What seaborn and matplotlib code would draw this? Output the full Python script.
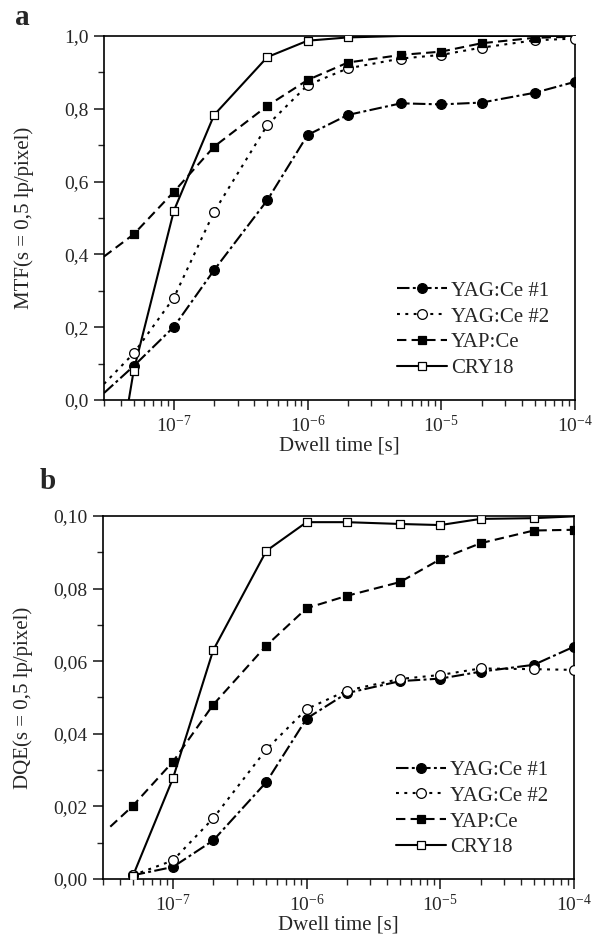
import numpy as np
import pandas as pd
import seaborn as sns
import matplotlib
matplotlib.use('Agg')
import matplotlib.pyplot as plt
from matplotlib.lines import Line2D
from matplotlib.ticker import MultipleLocator, FuncFormatter

# Dwell time [s] for every measured point
dwell = [5e-8, 1e-7, 2e-7, 5e-7, 1e-6, 2e-6, 5e-6, 1e-5, 2e-5, 5e-5, 1e-4]

# panel a: MTF at s = 0.5 lp/pixel
mtf_yag1 = [0.093, 0.201, 0.357, 0.549, 0.728, 0.783, 0.815, 0.812, 0.817, 0.844, 0.874]
mtf_yag2 = [0.128, 0.281, 0.517, 0.755, 0.865, 0.911, 0.938, 0.948, 0.968, 0.988, 0.993]
mtf_yap = [0.455, 0.572, 0.696, 0.808, 0.879, 0.927, 0.948, 0.957, 0.980, 0.995, 0.998]
mtf_cry18 = [0.080, 0.520, 0.783, 0.942, 0.987, 0.996, 1.0, 1.0, 1.0, 1.0, 1.0]
# where the fitted curves start on the left
mtf_start_x = [3e-8, 3e-8, 3e-8, 4.6e-8]
mtf_start_y = [0.019, 0.044, 0.394, 0.0]

# panel b: DQE at s = 0.5 lp/pixel
dqe_yag1 = [0.001, 0.0033, 0.0106, 0.0267, 0.0442, 0.0512, 0.0545, 0.0552, 0.0571, 0.0590, 0.0640]
dqe_yag2 = [0.001, 0.0051, 0.0167, 0.0357, 0.0468, 0.0519, 0.0551, 0.0562, 0.0580, 0.0578, 0.0576]
dqe_yap = [0.0201, 0.0323, 0.0480, 0.0643, 0.0746, 0.0780, 0.0818, 0.0881, 0.0925, 0.0960, 0.0962]
dqe_cry18 = [0.0007, 0.0277, 0.0630, 0.0904, 0.0983, 0.0983, 0.0978, 0.0975, 0.0992, 0.0994, 0.0999]
dqe_start_x = [5e-8, 5e-8, 3.4e-8, 5e-8]
dqe_start_y = [0.001, 0.001, 0.0144, 0.0007]

names = ['YAG:Ce #1', 'YAG:Ce #2', 'YAP:Ce', 'CRY18']

# line / marker look per sample
styles = {
    'YAG:Ce #1': dict(ls=(0, (6, 1.6, 1.4, 1.6)), marker='o', mfc='k', ms=7),
    'YAG:Ce #2': dict(ls=(0, (1.4, 2.6)), marker='o', mfc='white', ms=7),
    'YAP:Ce': dict(ls=(0, (4.5, 2.5)), marker='s', mfc='k', ms=6),
    'CRY18': dict(ls='-', marker='s', mfc='white', ms=6),
}

sns.set_style('ticks')
plt.rcParams['font.family'] = ['Liberation Serif', 'DejaVu Serif']
plt.rcParams['mathtext.fontset'] = 'stix'
plt.rcParams['axes.linewidth'] = 1.2


def draw_panel(ax, series, start_x, start_y, ymax, ystep, fmt, ylabel):
    for name, vals, sx, sy in zip(names, series, start_x, start_y):
        st = styles[name]
        line_df = pd.DataFrame({'x': [sx] + dwell, 'y': [sy] + vals}).drop_duplicates('x')
        sns.lineplot(data=line_df, x='x', y='y', ax=ax, color='k', lw=1.5,
                     linestyle=st['ls'], errorbar=None, zorder=2)
        pts = pd.DataFrame({'x': dwell, 'y': vals})
        pts = pts[pts['y'] < ymax * 0.998]
        sns.scatterplot(data=pts, x='x', y='y', ax=ax, marker=st['marker'],
                        s=st['ms'] ** 2, color=st['mfc'], edgecolor='k',
                        linewidth=0.9, zorder=3, clip_on=True)

    ax.set_xscale('log')
    ax.set_xlim(3e-8, 1e-4)
    ax.set_ylim(0, ymax)
    ax.yaxis.set_major_locator(MultipleLocator(ystep))
    ax.yaxis.set_minor_locator(MultipleLocator(ystep / 2))
    ax.yaxis.set_major_formatter(FuncFormatter(lambda v, p: fmt.format(v).replace('.', ',')))
    ax.tick_params(which='major', direction='out', length=7, width=1.2,
                   labelsize=14, pad=4, top=False, right=False)
    ax.tick_params(which='minor', direction='out', length=4, width=1.0,
                   top=False, right=False)
    for sp in ax.spines.values():
        sp.set_visible(True)
        sp.set_linewidth(1.2)
        sp.set_color('k')

    ax.set_xlabel('Dwell time [s]', fontsize=15)
    ax.set_ylabel(ylabel, fontsize=15)
    ax.xaxis.set_label_coords(0.5, -0.10)
    ax.yaxis.set_label_coords(-0.148, 0.5)

    handles = [Line2D([], [], color='k', lw=1.5, linestyle=styles[n]['ls'],
                      marker=styles[n]['marker'], mfc=styles[n]['mfc'], mec='k',
                      mew=0.9, ms=styles[n]['ms']) for n in names]
    ax.legend(handles, names, loc='center left', bbox_to_anchor=(0.60, 0.193),
              frameon=False, fontsize=15, handlelength=2.4, handletextpad=0.2,
              labelspacing=0.3, borderpad=0, numpoints=1)


fig = plt.figure(figsize=(6, 9.44), dpi=100)
ax_a = fig.add_axes([0.1733, 0.5763, 0.785, 0.3856])
ax_b = fig.add_axes([0.1717, 0.0689, 0.785, 0.3845])

draw_panel(ax_a, [mtf_yag1, mtf_yag2, mtf_yap, mtf_cry18], mtf_start_x, mtf_start_y,
           1.0, 0.2, '{:.1f}', 'MTF(s = 0,5 lp/pixel)')
draw_panel(ax_b, [dqe_yag1, dqe_yag2, dqe_yap, dqe_cry18], dqe_start_x, dqe_start_y,
           0.10, 0.02, '{:.2f}', 'DQE(s = 0,5 lp/pixel)')

fig.text(15 / 600, 1 - 25 / 944, 'a', fontsize=21, fontweight='bold', va='baseline')
fig.text(40 / 600, 1 - 489 / 944, 'b', fontsize=21, fontweight='bold', va='baseline')

fig.savefig('out.png', dpi=100, facecolor='white')
